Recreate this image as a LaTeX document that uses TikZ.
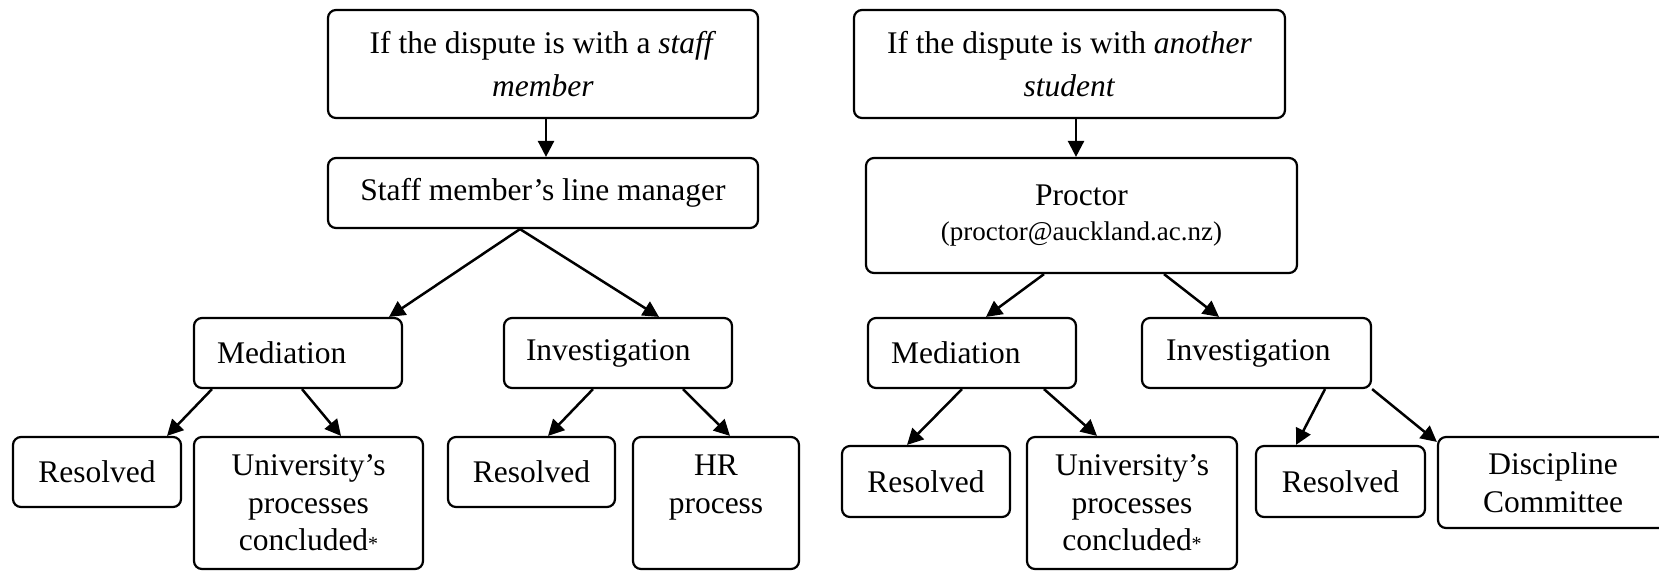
\documentclass[tikz,border=0pt]{standalone}
\usepackage{fontspec}
\setmainfont{Liberation Serif}
\usetikzlibrary{arrows.meta,calc}
\begin{document}
\begin{tikzpicture}[x=0.5pt,y=-0.5pt,
  box/.style={draw, line width=1.1pt, rounded corners=4pt, inner sep=0pt, align=center,
    font=\fontsize{15.75pt}{18.75pt}\selectfont},
  topbox/.style={box, font=\fontsize{15.75pt}{21.5pt}\selectfont},
  leftbox/.style={box, align=left, minimum height=35pt},
  arr/.style={line width=1.25pt, -{Triangle[length=8pt,width=8pt]}}]
\useasboundingbox (0,0) rectangle (1659,570);
\clip (0,0) rectangle (1659,570);
% ---------- left tree ----------
\node[topbox, minimum width=215pt, minimum height=54pt] (ltop) at (543,64)
  {If the dispute is with a \textit{staff}\\\textit{member}};
\node[box, minimum width=215pt, minimum height=35pt] (lm) at (543,193)
  {Staff member’s line manager};
\node[leftbox, text width=81pt, inner xsep=11.5pt] (medl) at (298,353) {Mediation};
\node[leftbox, text width=92pt, inner xsep=11pt] (invl) at (618,353) {Investigation};
\node[box, minimum width=84pt, minimum height=35pt] (resl1) at (97,472) {Resolved};
\node[box, minimum width=114.5pt, minimum height=66pt] (unil) at (308.5,503)
  {University’s\\processes\\concluded{\fontsize{10pt}{10pt}\selectfont *}};
\node[box, minimum width=83.5pt, minimum height=35pt] (resl2) at (531.5,472) {Resolved};
\node[box, minimum width=83pt, minimum height=66pt] (hr) at (716,503)
  {HR\\process\\\mbox{}};
% ---------- right tree ----------
\node[topbox, minimum width=215.5pt, minimum height=54pt] (rtop) at (1069.5,64)
  {If the dispute is with \textit{another}\\\textit{student}};
\node[box, minimum width=215.5pt, minimum height=57.5pt] (proc) at (1081.5,215.5)
  {Proctor\\[-1pt]{\fontsize{13.5pt}{16pt}\selectfont (proctor@auckland.ac.nz)}};
\node[leftbox, text width=81pt, inner xsep=11.5pt] (medr) at (972,353) {Mediation};
\node[leftbox, text width=90.5pt, inner xsep=12pt] (invr) at (1256.5,353) {Investigation};
\node[box, minimum width=84pt, minimum height=35.5pt] (resr1) at (926,481.5) {Resolved};
\node[box, minimum width=105pt, minimum height=66pt] (unir) at (1132,503)
  {University’s\\processes\\concluded{\fontsize{10pt}{10pt}\selectfont *}};
\node[box, minimum width=84.5pt, minimum height=35.5pt] (resr2) at (1340.5,481.5) {Resolved};
\node[box, minimum width=115pt, minimum height=45.5pt] (disc) at (1553,482.5)
  {Discipline\\Committee};
% ---------- connectors left ----------
\draw[arr] ([xshift=1.5pt]ltop.south) -- ([xshift=1.5pt]lm.north);
\draw[arr] ([xshift=-11.5pt]lm.south) -- ([xshift=45.5pt]medl.north);
\draw[arr] ([xshift=-11.5pt]lm.south) -- ([xshift=20.5pt]invl.north);
\draw[arr] ([xshift=-43pt]medl.south) -- ([xshift=35pt]resl1.north);
\draw[arr] ([xshift=2pt]medl.south) -- ([xshift=16.25pt]unil.north);
\draw[arr] ([xshift=-12.5pt]invl.south) -- ([xshift=8.25pt]resl2.north);
\draw[arr] ([xshift=32.5pt]invl.south) -- ([xshift=7pt]hr.north);
% ---------- connectors right ----------
\draw[arr] ([xshift=3.25pt]rtop.south) -- ([xshift=-2.75pt]proc.north);
\draw[arr] ([xshift=-18.75pt]proc.south) -- ([xshift=7pt]medr.north);
\draw[arr] ([xshift=41.25pt]proc.south) -- ([xshift=-18.75pt]invr.north);
\draw[arr] ([xshift=-5pt]medr.south) -- ([xshift=-9.5pt]resr1.north);
\draw[arr] ([xshift=36pt]medr.south) -- ([xshift=-17.5pt]unir.north);
\draw[arr] ([xshift=34.25pt]invr.south) -- ([xshift=-22.25pt]resr2.north);
\draw[arr] (invr.south east) -- ([yshift=-3pt]disc.north west);
\end{tikzpicture}
\end{document}
